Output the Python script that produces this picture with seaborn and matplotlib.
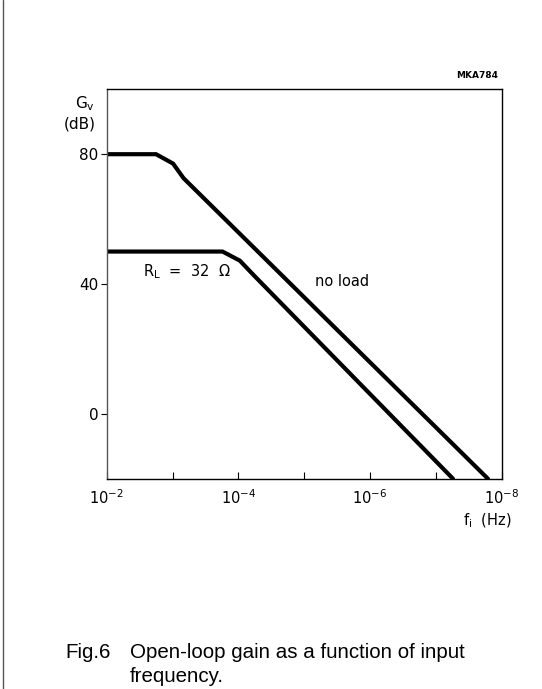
import matplotlib
matplotlib.use("Agg")
import matplotlib.pyplot as plt
import matplotlib.ticker as mticker
import seaborn as sns
import pandas as pd
import numpy as np

# ---- data ----
freq_noload = [1e-2, 1.78e-3, 9.8e-4, 6.8e-4, 1.62e-8]
gain_noload = [80, 80, 77.1, 72.6, -20]
freq_load = [1e-2, 1.74e-4, 9.5e-5, 5.9e-5, 5.5e-8]
gain_load = [50, 50, 47.2, 42.8, -20]
ytick_values = [0, 40, 80]
xtick_values = [1e-2, 1e-3, 1e-4, 1e-5, 1e-6, 1e-7, 1e-8]
xtick_labels = [r"$10^{-2}$", "", r"$10^{-4}$", "", r"$10^{-6}$", "", r"$10^{-8}$"]

df = pd.concat([
    pd.DataFrame({"f": freq_noload, "G": gain_noload, "curve": "no load"}),
    pd.DataFrame({"f": freq_load, "G": gain_load, "curve": "RL"}),
])

sns.set_theme(style="white")
plt.rcParams["font.family"] = ["DejaVu Sans"]
plt.rcParams["text.color"] = "black"
plt.rcParams["xtick.color"] = "black"
plt.rcParams["ytick.color"] = "black"
plt.rcParams["xtick.labelcolor"] = "black"
plt.rcParams["ytick.labelcolor"] = "black"

W, H = 542, 689
fig = plt.figure(figsize=(W / 100, H / 100), dpi=100)
ax = fig.add_axes([106.7 / W, 1 - 478.7 / H, (501.7 - 106.7) / W, (478.7 - 89.3) / H])

sns.lineplot(data=df, x="f", y="G", units="curve", estimator=None, sort=False,
             color="black", lw=3.0, ax=ax, legend=False, solid_joinstyle="miter")

ax.set_xscale("log")
ax.set_xlim(1e-2, 1e-8)
ax.set_ylim(-20, 100)
ax.set_xlabel("")
ax.set_ylabel("")

ax.xaxis.set_major_locator(mticker.FixedLocator(xtick_values))
ax.xaxis.set_minor_locator(mticker.NullLocator())
ax.set_xticks(xtick_values)
ax.set_xticklabels(xtick_labels)
ax.set_yticks(ytick_values)
ax.set_yticklabels([str(v) for v in ytick_values])

ax.tick_params(axis="x", direction="in", length=5, width=0.8, color="black",
               labelcolor="black", pad=7, labelsize=10.5, bottom=True, top=False)
ax.tick_params(axis="y", direction="out", length=4, width=0.8, color="black",
               labelcolor="black", pad=2, labelsize=11, left=True)
for s in ax.spines.values():
    s.set_color("black")
    s.set_linewidth(1.0)
ax.spines["left"].set_color("#555555")

# texts
fig.text(85 / W, 1 - 104 / H, r"G$_\mathregular{v}$", fontsize=11, ha="center", va="center")
fig.text(80 / W, 1 - 124 / H, "(dB)", fontsize=11, ha="center", va="center")
fig.text(477 / W, 1 - 76 / H, "MKA784", fontsize=6.5, fontweight="bold", ha="center", va="center")
fig.text(143 / W, 1 - 272 / H, r"R$_\mathregular{L}$  =  32  Ω", fontsize=10.5, ha="left", va="center")
fig.text(315 / W, 1 - 281 / H, "no load", fontsize=10.5, ha="left", va="center")
fig.text(512 / W, 1 - 521 / H, r"f$_\mathregular{i}$  (Hz)", fontsize=10.5, ha="right", va="center")

fig.text(65 / W, 1 - 652 / H, "Fig.6", fontsize=14.8, family="Liberation Sans", ha="left", va="center")
fig.text(130 / W, 1 - 652 / H, "Open-loop gain as a function of input", fontsize=14.8,
         family="Liberation Sans", ha="left", va="center")
fig.text(130 / W, 1 - 677 / H, "frequency.", fontsize=14.8, family="Liberation Sans",
         ha="left", va="center")

# left frame line of the page
fig.add_artist(plt.Line2D([3 / W, 3 / W], [0, 1], color="#555555", lw=1.0))

fig.savefig("out.png", dpi=100)
